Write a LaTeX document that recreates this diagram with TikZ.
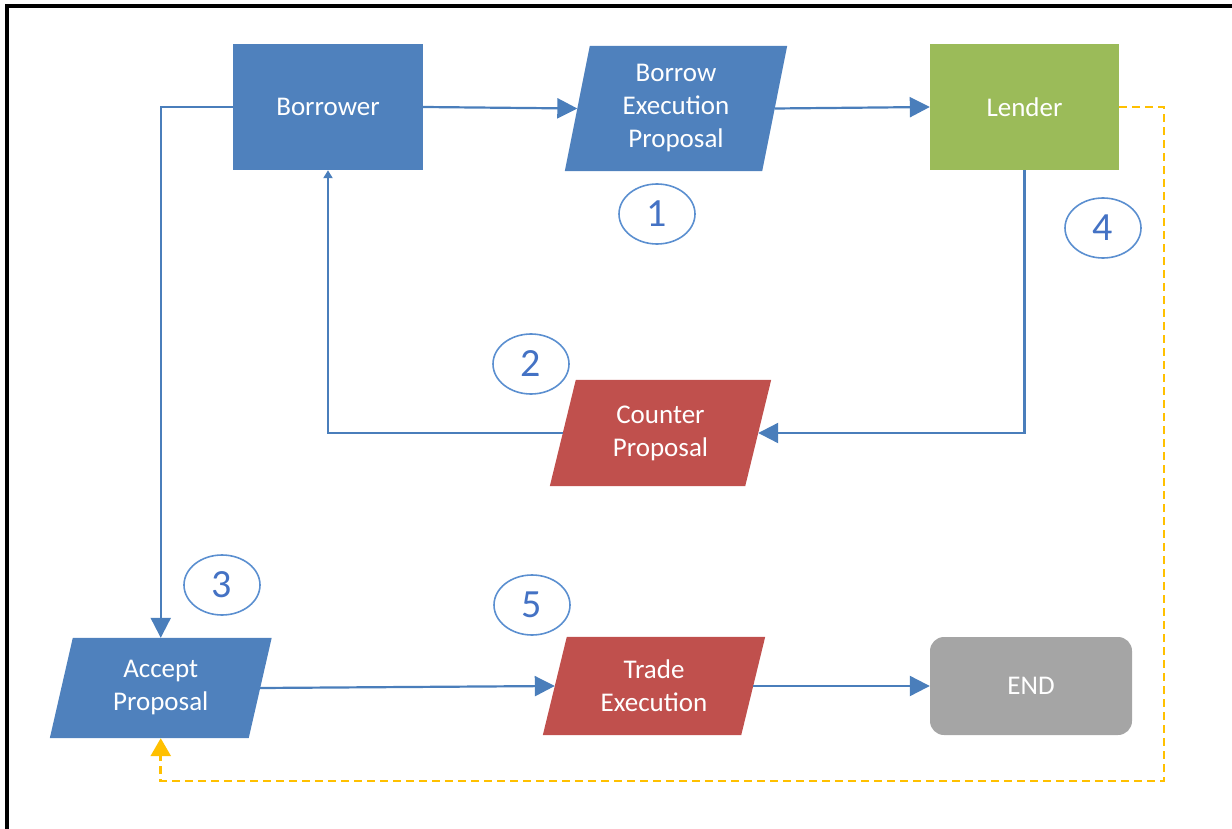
\documentclass[tikz,border=0pt]{standalone}
\usepackage{fontspec}
\setmainfont{Carlito}
\usetikzlibrary{arrows.meta,shapes.geometric,backgrounds}
\definecolor{boxblue}{HTML}{4F81BD}
\definecolor{boxgreen}{HTML}{9BBB59}
\definecolor{boxred}{HTML}{C0504D}
\definecolor{boxgray}{HTML}{A5A5A5}
\definecolor{lineblue}{HTML}{4A7EBB}
\definecolor{ringblue}{HTML}{5B8FD0}
\definecolor{numblue}{HTML}{4472C4}
\definecolor{dashorange}{HTML}{FFC000}
\tikzset{
  lbl/.style={text=white, inner sep=0pt, align=center, font=\fontsize{27}{33}\selectfont},
  rectbox/.style={lbl, fill=#1, minimum width=190pt, minimum height=126pt},
  flow/.style={draw=lineblue, line width=2.2pt, -{Triangle[length=20pt,width=20pt]}},
  flowsmall/.style={draw=lineblue, line width=2.2pt, -{Triangle[length=8pt,width=9pt]}},
  dashline/.style={draw=dashorange, line width=2.8pt, dash pattern=on 8pt off 5pt,
    -{Triangle[length=18pt,width=20pt]}},
  badge/.style={ellipse, draw=ringblue, line width=1.6pt, minimum width=76pt,
    minimum height=60pt, inner sep=0pt, text=numblue, font=\fontsize{40}{40}\selectfont},
}
% #1 name, #2 centre, #3 width at mid-height, #4 height, #5 half slant, #6 fill, #7 text
\newcommand\slantbox[7]{%
  \node[lbl, minimum width=#3pt, minimum height=#4pt] (#1) at #2 {#7};
  \begin{scope}[on background layer]
    \fill[#6] ([xshift=#5pt]#1.north west) -- ([xshift=#5pt]#1.north east)
      -- ([xshift=-#5pt]#1.south east) -- ([xshift=-#5pt]#1.south west) -- cycle;
  \end{scope}}
\begin{document}
\begin{tikzpicture}[x=1pt, y=-1pt]
  \useasboundingbox (0,0) rectangle (1232,829);
  % frame
  \draw[line width=4pt] (7,829) -- (7,6) -- (1232,6);

  % boxes
  \node[rectbox=boxblue] (borrower) at (328,107) {Borrower};
  \slantbox{bep}{(676,108.5)}{197}{125}{12.5}{boxblue}{Borrow\\Execution\\Proposal}
  \node[rectbox=boxgreen, minimum width=189pt] (lender) at (1024.5,107) {Lender};
  \slantbox{counter}{(660.5,433)}{195}{106}{13}{boxred}{Counter\\Proposal}
  \slantbox{accept}{(160.75,688)}{198.5}{100}{11.5}{boxblue}{Accept\\Proposal}
  \slantbox{trade}{(654,686)}{198}{98}{12}{boxred}{Trade\\Execution}
  \node[lbl, fill=boxgray, rounded corners=14pt, minimum width=202pt,
        minimum height=98pt] (end) at (1031,686) {END};

  % step numbers
  \node[badge] (n1) at (657,214) {1};
  \node[badge] (n2) at (531,364) {2};
  \node[badge] (n3) at (222,585) {3};
  \node[badge] (n4) at (1103,228) {4};
  \node[badge] (n5) at (532,605) {5};

  % connectors
  \draw[flow] (borrower.east) -- (bep.west);
  \draw[flow] (bep.east) -- (lender.west);
  \draw[flow] (lender.south) |- (counter.east);
  \draw[flowsmall] (counter.west) -| (borrower.south);
  \draw[flow] (borrower.west) -| (accept.north);
  \draw[flow] (accept.east) -- (trade.west);
  \draw[flow] (trade.east) -- (end.west);
  \coordinate (dcorner) at (1164,781);
  \draw[dashline] (lender.east) -| (dcorner) -| (accept.south);
\end{tikzpicture}
\end{document}
